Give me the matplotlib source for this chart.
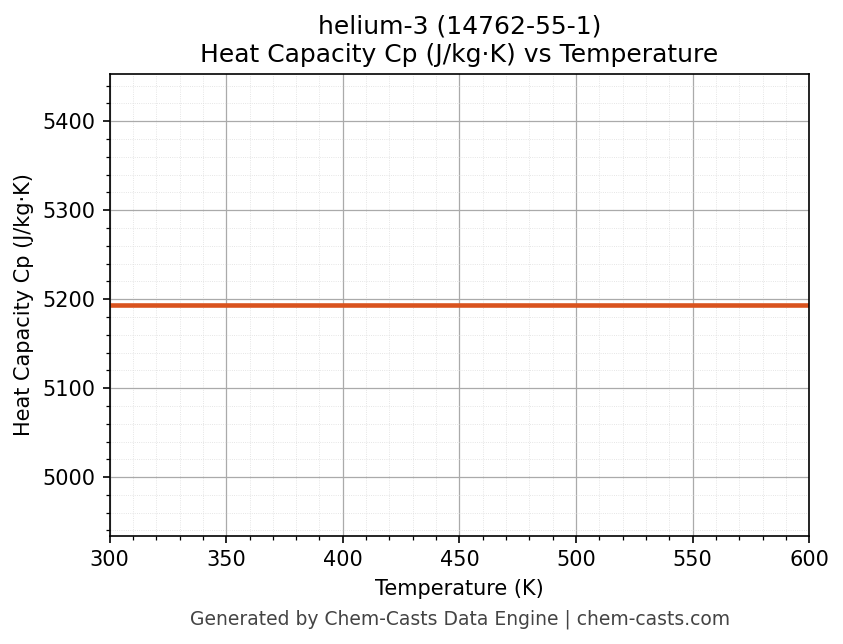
import matplotlib
matplotlib.use("Agg")
import matplotlib.pyplot as plt
import numpy as np

temps = [300, 350, 400, 450, 500, 550, 600]
cp = [5193.0, 5193.0, 5193.0, 5193.0, 5193.0, 5193.0, 5193.0]

fig, ax = plt.subplots(figsize=(843/150, 644/150), dpi=150)
ax.plot(temps, cp, color="#d9531e", linewidth=2.2)
ax.set_xlim(300, 600)
ax.set_ylim(4934, 5453)
ax.minorticks_on()
ax.grid(which="major", color="#aaaaaa", linewidth=0.6)
ax.grid(which="minor", color="#dddddd", linewidth=0.4, linestyle=":")
ax.set_xlabel("Temperature (K)")
ax.set_ylabel("Heat Capacity Cp (J/kg·K)", fontsize=10)
ax.set_title("helium-3 (14762-55-1)\nHeat Capacity Cp (J/kg·K) vs Temperature")
fig.text(0.546, 0.03, "Generated by Chem-Casts Data Engine | chem-casts.com",
         ha="center", fontsize=9, color="#444444")
fig.subplots_adjust(left=0.13, right=0.96, top=0.885, bottom=0.168)
fig.savefig("out.png", dpi=150)
